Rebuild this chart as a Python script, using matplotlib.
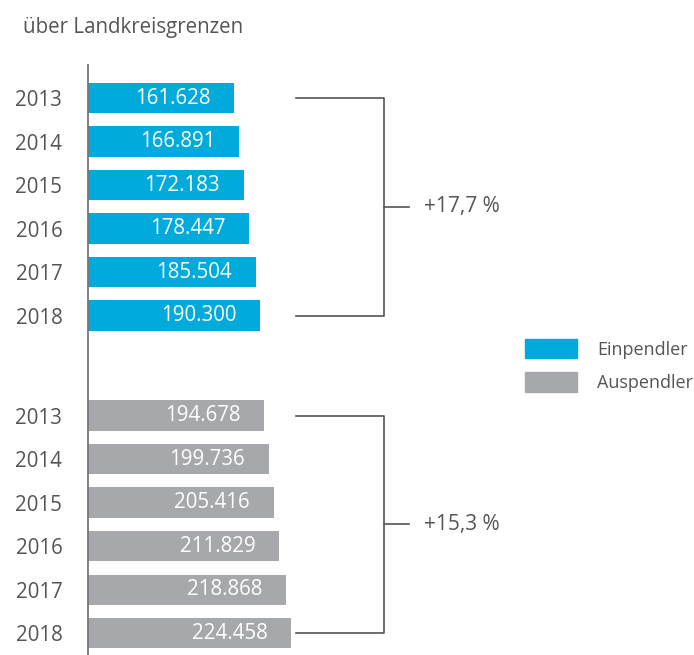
import matplotlib
matplotlib.use("Agg")
import matplotlib.pyplot as plt
from matplotlib.patches import Patch

plt.rcParams['font.family'] = ['Open Sans', 'DejaVu Sans']

years = ["2013", "2014", "2015", "2016", "2017", "2018"]
einpendler = [161628, 166891, 172183, 178447, 185504, 190300]
auspendler = [194678, 199736, 205416, 211829, 218868, 224458]
growth_labels = ["+17,7 %", "+15,3 %"]
series_names = ["Einpendler", "Auspendler"]
title = "über Landkreisgrenzen"

BLUE = "#00ABDC"
GRAY = "#A7A8AB"
TXT = "#555555"

def fmt(v):
    return f"{v:,}".replace(",", ".")

fig = plt.figure(figsize=(6.94, 6.55), dpi=100)
ax = fig.add_axes([88 / 694, 0, 606 / 694, 1 - 65 / 655])

pos_e = [i for i in range(len(years))]
pos_a = [7.3 + i for i in range(len(years))]
h = 0.7

be = ax.barh(pos_e, einpendler, height=h, color=BLUE, label=series_names[0])
ba = ax.barh(pos_a, auspendler, height=h, color=GRAY, label=series_names[1])

ax.set_xlim(0, 606 / 0.000904)
ax.set_ylim(12.8, -0.76)

for bars, vals in ((be, einpendler), (ba, auspendler)):
    for b, v in zip(bars, vals):
        ax.annotate(fmt(v), (b.get_width(), b.get_y() + b.get_height() / 2),
                    xytext=(-17, 0), textcoords="offset points",
                    ha="right", va="center", color="white", fontsize=14.8)

ax.set_yticks(pos_e + pos_a)
ax.set_yticklabels(years + years)
ax.tick_params(axis="y", length=0, pad=18.5, labelsize=14.8, labelcolor=TXT)
ax.set_xticks([])
for s in ["top", "right", "bottom"]:
    ax.spines[s].set_visible(False)
ax.spines["left"].set_color("#777777")
ax.spines["left"].set_linewidth(1.3)

tr = ax.get_yaxis_transform()
x0, x1, x2, xt = 0.343, 0.488, 0.530, 0.554
for pos, lab in ((pos_e, growth_labels[0]), (pos_a, growth_labels[1])):
    ytop, ybot = pos[0], pos[-1]
    ymid = (ytop + ybot) / 2
    ax.plot([x0, x1, x1, x0], [ytop, ytop, ybot, ybot], transform=tr,
            color=TXT, lw=1.2, clip_on=False)
    ax.plot([x1, x2], [ymid, ymid], transform=tr, color=TXT, lw=1.2, clip_on=False)
    ax.text(xt, ymid, lab, transform=tr, ha="left", va="center",
            color=TXT, fontsize=15)

fig.text(23 / 694, 1 - 27 / 655, title, ha="left", va="center",
         color=TXT, fontsize=14.8)

handles = [Patch(color=BLUE), Patch(color=GRAY)]
leg = fig.legend(handles, series_names, loc="upper left",
                 bbox_to_anchor=(512 / 694, 1 - 326 / 655),
                 frameon=False, fontsize=13, labelcolor=TXT,
                 handlelength=2.9, handleheight=1.3, handletextpad=1.1,
                 labelspacing=0.75, borderpad=0.2)

fig.savefig("out.png", dpi=100)
